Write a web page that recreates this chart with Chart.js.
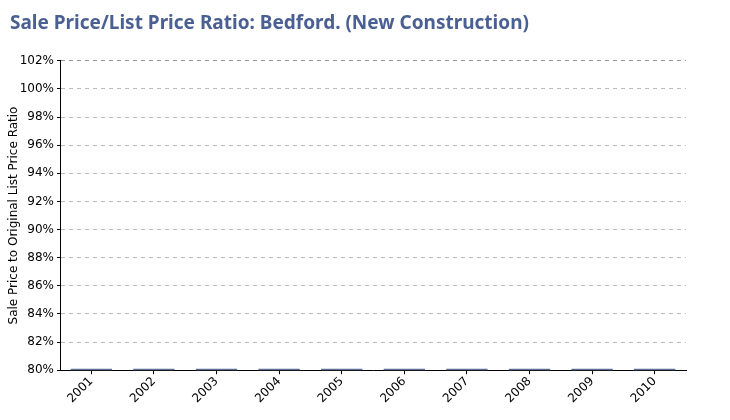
<!DOCTYPE html>
<html>
<head>
<meta charset="utf-8">
<script src="https://cdn.jsdelivr.net/npm/chart.js@4.4.1/dist/chart.umd.min.js"></script>
<style>
  body { margin: 0; background: #fff; }
  #wrap { width: 730px; height: 420px; }
</style>
</head>
<body>
<div id="wrap"><canvas id="chart"></canvas></div>
<script>
const years = ['2001', '2002', '2003', '2004', '2005', '2006', '2007', '2008', '2009', '2010'];
// ratios sit just above the 80% floor
const ratios = [80.1, 80.1, 80.1, 80.1, 80.1, 80.1, 80.1, 80.1, 80.1, 80.1];
const yMin = 80;
const yMax = 102;

const ctx = document.getElementById('chart').getContext('2d');
new Chart(ctx, {
    type: 'bar',
    data: {
        labels: years,
        datasets: [{
            label: 'Sale Price/List Price Ratio',
            data: ratios,
            backgroundColor: '#5d6f94',
            barPercentage: 0.66,
            categoryPercentage: 1.0
        }]
    },
    options: {
        responsive: true,
        maintainAspectRatio: false,
        animation: false,
        layout: { padding: { left: 10, right: 44, top: 4, bottom: 14 } },
        plugins: {
            legend: { display: false },
            tooltip: { enabled: false },
            title: {
                display: true,
                text: 'Sale Price/List Price Ratio: Bedford. (New Construction)',
                align: 'start',
                color: '#4a5f92',
                font: { family: "'Noto Sans', sans-serif", size: 19, weight: 'bold' },
                padding: { top: 8, bottom: 26 }
            }
        },
        scales: {
            y: {
                min: yMin,
                max: yMax,
                afterFit: scale => { scale.width = 50; },
                ticks: {
                    stepSize: 2,
                    color: '#000',
                    font: { family: "'DejaVu Sans', sans-serif", size: 12 },
                    padding: 3,
                    callback: v => v + '%'
                },
                grid: {
                    color: ctx => ctx.tick && ctx.tick.value === yMax ? '#999' : '#bbb',
                    tickColor: '#000',
                    tickLength: 3,
                    tickBorderDash: []
                },
                border: { display: true, color: '#000', width: 1, dash: [4, 4] },
                title: {
                    display: true,
                    text: 'Sale Price to Original List Price Ratio',
                    color: '#000',
                    font: { family: "'DejaVu Sans', sans-serif", size: 12 },
                    padding: { top: -3, bottom: 0 }
                }
            },
            x: {
                ticks: {
                    color: '#000',
                    font: { family: "'DejaVu Sans', sans-serif", size: 12 },
                    maxRotation: 45,
                    minRotation: 45,
                    padding: 0
                },
                grid: {
                    drawOnChartArea: false,
                    offset: false,
                    tickLength: 4,
                    tickColor: '#000'
                },
                border: { display: true, color: '#000', width: 1 }
            }
        }
    }
});
</script>
</body>
</html>
